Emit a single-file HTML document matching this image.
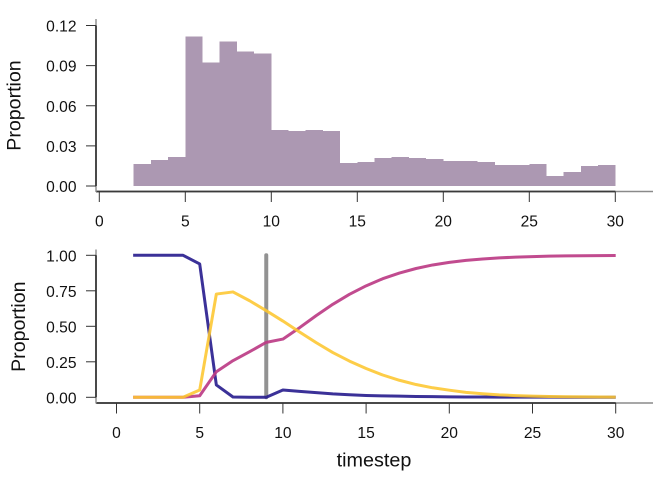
<!DOCTYPE html>
<html>
<head>
<meta charset="utf-8">
<style>
html,body{margin:0;padding:0;background:#fff;}
svg{display:block;}
text{font-family:"Liberation Sans",sans-serif;fill:#111;}
</style>
</head>
<body>
<svg id="chart" xmlns="http://www.w3.org/2000/svg" width="672" height="480" viewBox="0 0 672 480"></svg>
<script>
var binStarts = [2,3,4,5,6,7,8,9,10,11,12,13,14,15,16,17,18,19,20,21,22,23,24,25,26,27,28,29];
var binValues = [0.0165,0.0195,0.0217,0.1117,0.0922,0.108,0.1005,0.099,0.042,0.041,0.042,0.041,0.0172,0.018,0.021,0.0217,0.021,0.0202,0.0187,0.0187,0.018,0.0157,0.0157,0.0165,0.0075,0.0105,0.015,0.0157];
var timesteps = [1,2,3,4,5,6,7,8,9,10,11,12,13,14,15,16,17,18,19,20,21,22,23,24,25,26,27,28,29,30];
var seriesBlue = [1,1,1,1,0.939,0.087,0.002,0,0,0.051,0.042,0.033,0.024,0.018,0.013,0.01,0.008,0.006,0.005,0.003,0.002,0.002,0.001,0.001,0.001,0.001,0,0,0,0];
var seriesMagenta = [0,0,0,0,0.011,0.18,0.258,0.321,0.387,0.41,0.49,0.575,0.655,0.725,0.785,0.835,0.875,0.907,0.932,0.95,0.964,0.974,0.982,0.987,0.991,0.994,0.996,0.997,0.998,0.999];
var seriesYellow = [0,0,0,0,0.051,0.727,0.742,0.68,0.61,0.537,0.46,0.385,0.315,0.255,0.203,0.157,0.12,0.09,0.067,0.05,0.035,0.025,0.017,0.012,0.008,0.006,0.004,0.003,0.002,0.001];
var markerTime = [9];
var topXTicks = [0,5,10,15,20,25,30];
var topYTicks = [0,0.03,0.06,0.09,0.12];
var topYLabels = ["0.00","0.03","0.06","0.09","0.12"];
var bottomXTicks = [0,5,10,15,20,25,30];
var bottomYTicks = [0,0.25,0.5,0.75,1];
var bottomYLabels = ["0.00","0.25","0.50","0.75","1.00"];

var svg = document.getElementById('chart');
var NS = 'http://www.w3.org/2000/svg';
function mk(tag, attrs, parent) {
  var el = document.createElementNS(NS, tag);
  for (var k in attrs) { el.setAttribute(k, attrs[k]); }
  (parent || svg).appendChild(el);
  return el;
}
function topX(v){ return 99.3 + v * 17.2; }
function topY(v){ return 186 - v * (160.5 / 0.12); }
function botX(v){ return 116.5 + v * 16.64; }
function botY(v){ return 397.3 - v * 142; }

var i, el;

/* top histogram */
for (i = 0; i < binStarts.length; i++) {
  el = mk('rect', {x: topX(binStarts[i]), y: topY(binValues[i]), width: 17.2, height: topY(0) - topY(binValues[i]), fill: '#ac98b2', 'shape-rendering': 'crispEdges'});
  
  
}

/* top axes */
el = mk('line', {x1: 96, x2: 653, y1: 191.5, y2: 191.5, stroke: '#8a8a8a', 'stroke-width': 1.4});


el = mk('line', {x1: 96, x2: topX(30), y1: 191.5, y2: 191.5, stroke: '#3a3a3a', 'stroke-width': 1.8});


el = mk('line', {x1: 96, x2: 96, y1: 19, y2: 192, stroke: '#8a8a8a', 'stroke-width': 1.4});


el = mk('line', {x1: 96, x2: 96, y1: topY(0.12), y2: topY(0), stroke: '#3a3a3a', 'stroke-width': 1.8});



for (i = 0; i < topXTicks.length; i++) {
  el = mk('line', {x1: topX(topXTicks[i]), x2: topX(topXTicks[i]), y1: 191.5, y2: 202, stroke: '#333', 'stroke-width': 1});
  
  
  el = mk('text', {x: topX(topXTicks[i]), y: 226.5, 'text-anchor': 'middle', 'font-size': 15.6});
  el.textContent = topXTicks[i];
  
  
}
for (i = 0; i < topYTicks.length; i++) {
  el = mk('line', {x1: 86, x2: 96, y1: topY(topYTicks[i]), y2: topY(topYTicks[i]), stroke: '#333', 'stroke-width': 1});
  
  
  el = mk('text', {x: 76.5, y: topY(topYTicks[i]) + 6, 'text-anchor': 'end', 'font-size': 15.6});
  el.textContent = topYLabels[i];
  
  
}
el = mk('text', {transform: 'translate(20.5 105.5) rotate(-90)', 'text-anchor': 'middle', 'font-size': 19.6});
el.textContent = 'Proportion';



/* bottom axes */
el = mk('line', {x1: 96, x2: 653, y1: 403, y2: 403, stroke: '#8a8a8a', 'stroke-width': 1.4});


el = mk('line', {x1: 96, x2: botX(30), y1: 403, y2: 403, stroke: '#222', 'stroke-width': 1.5});


el = mk('line', {x1: 96, x2: 96, y1: 249.5, y2: 403.5, stroke: '#8a8a8a', 'stroke-width': 1.4});


el = mk('line', {x1: 96, x2: 96, y1: botY(1), y2: botY(0), stroke: '#3a3a3a', 'stroke-width': 1.8});



for (i = 0; i < bottomXTicks.length; i++) {
  el = mk('line', {x1: botX(bottomXTicks[i]), x2: botX(bottomXTicks[i]), y1: 403, y2: 413.5, stroke: '#333', 'stroke-width': 1});
  
  
  el = mk('text', {x: botX(bottomXTicks[i]), y: 438, 'text-anchor': 'middle', 'font-size': 15.6});
  el.textContent = bottomXTicks[i];
  
  
}
for (i = 0; i < bottomYTicks.length; i++) {
  el = mk('line', {x1: 86, x2: 96, y1: botY(bottomYTicks[i]), y2: botY(bottomYTicks[i]), stroke: '#333', 'stroke-width': 1});
  
  
  el = mk('text', {x: 76.5, y: botY(bottomYTicks[i]) + 6, 'text-anchor': 'end', 'font-size': 15.6});
  el.textContent = bottomYLabels[i];
  
  
}
el = mk('text', {transform: 'translate(25 326.7) rotate(-90)', 'text-anchor': 'middle', 'font-size': 19.6});
el.textContent = 'Proportion';


el = mk('text', {x: 374, y: 466.5, 'text-anchor': 'middle', 'font-size': 19.8});
el.textContent = 'timestep';



/* series */
function linePoints(values) {
  var pts = [];
  for (var j = 0; j < timesteps.length; j++) {
    pts.push(botX(timesteps[j]) + ',' + botY(values[j]));
  }
  return pts.join(' ');
}
el = mk('line', {x1: botX(markerTime[0]), x2: botX(markerTime[0]), y1: botY(1), y2: botY(0), stroke: '#7f7f7f', 'stroke-width': 4, 'stroke-opacity': 0.85, 'stroke-linecap': 'round'});



el = mk('polyline', {points: linePoints(seriesBlue), fill: 'none', stroke: '#2a1f8f', 'stroke-opacity': 0.92, 'stroke-width': 3, 'stroke-linejoin': 'round'});


el = mk('polyline', {points: linePoints(seriesMagenta), fill: 'none', stroke: '#bc3c86', 'stroke-opacity': 0.92, 'stroke-width': 3, 'stroke-linejoin': 'round'});


el = mk('polyline', {points: linePoints(seriesYellow), fill: 'none', stroke: '#fdc62f', 'stroke-opacity': 0.88, 'stroke-width': 3, 'stroke-linejoin': 'round'});


</script>
</body>
</html>
